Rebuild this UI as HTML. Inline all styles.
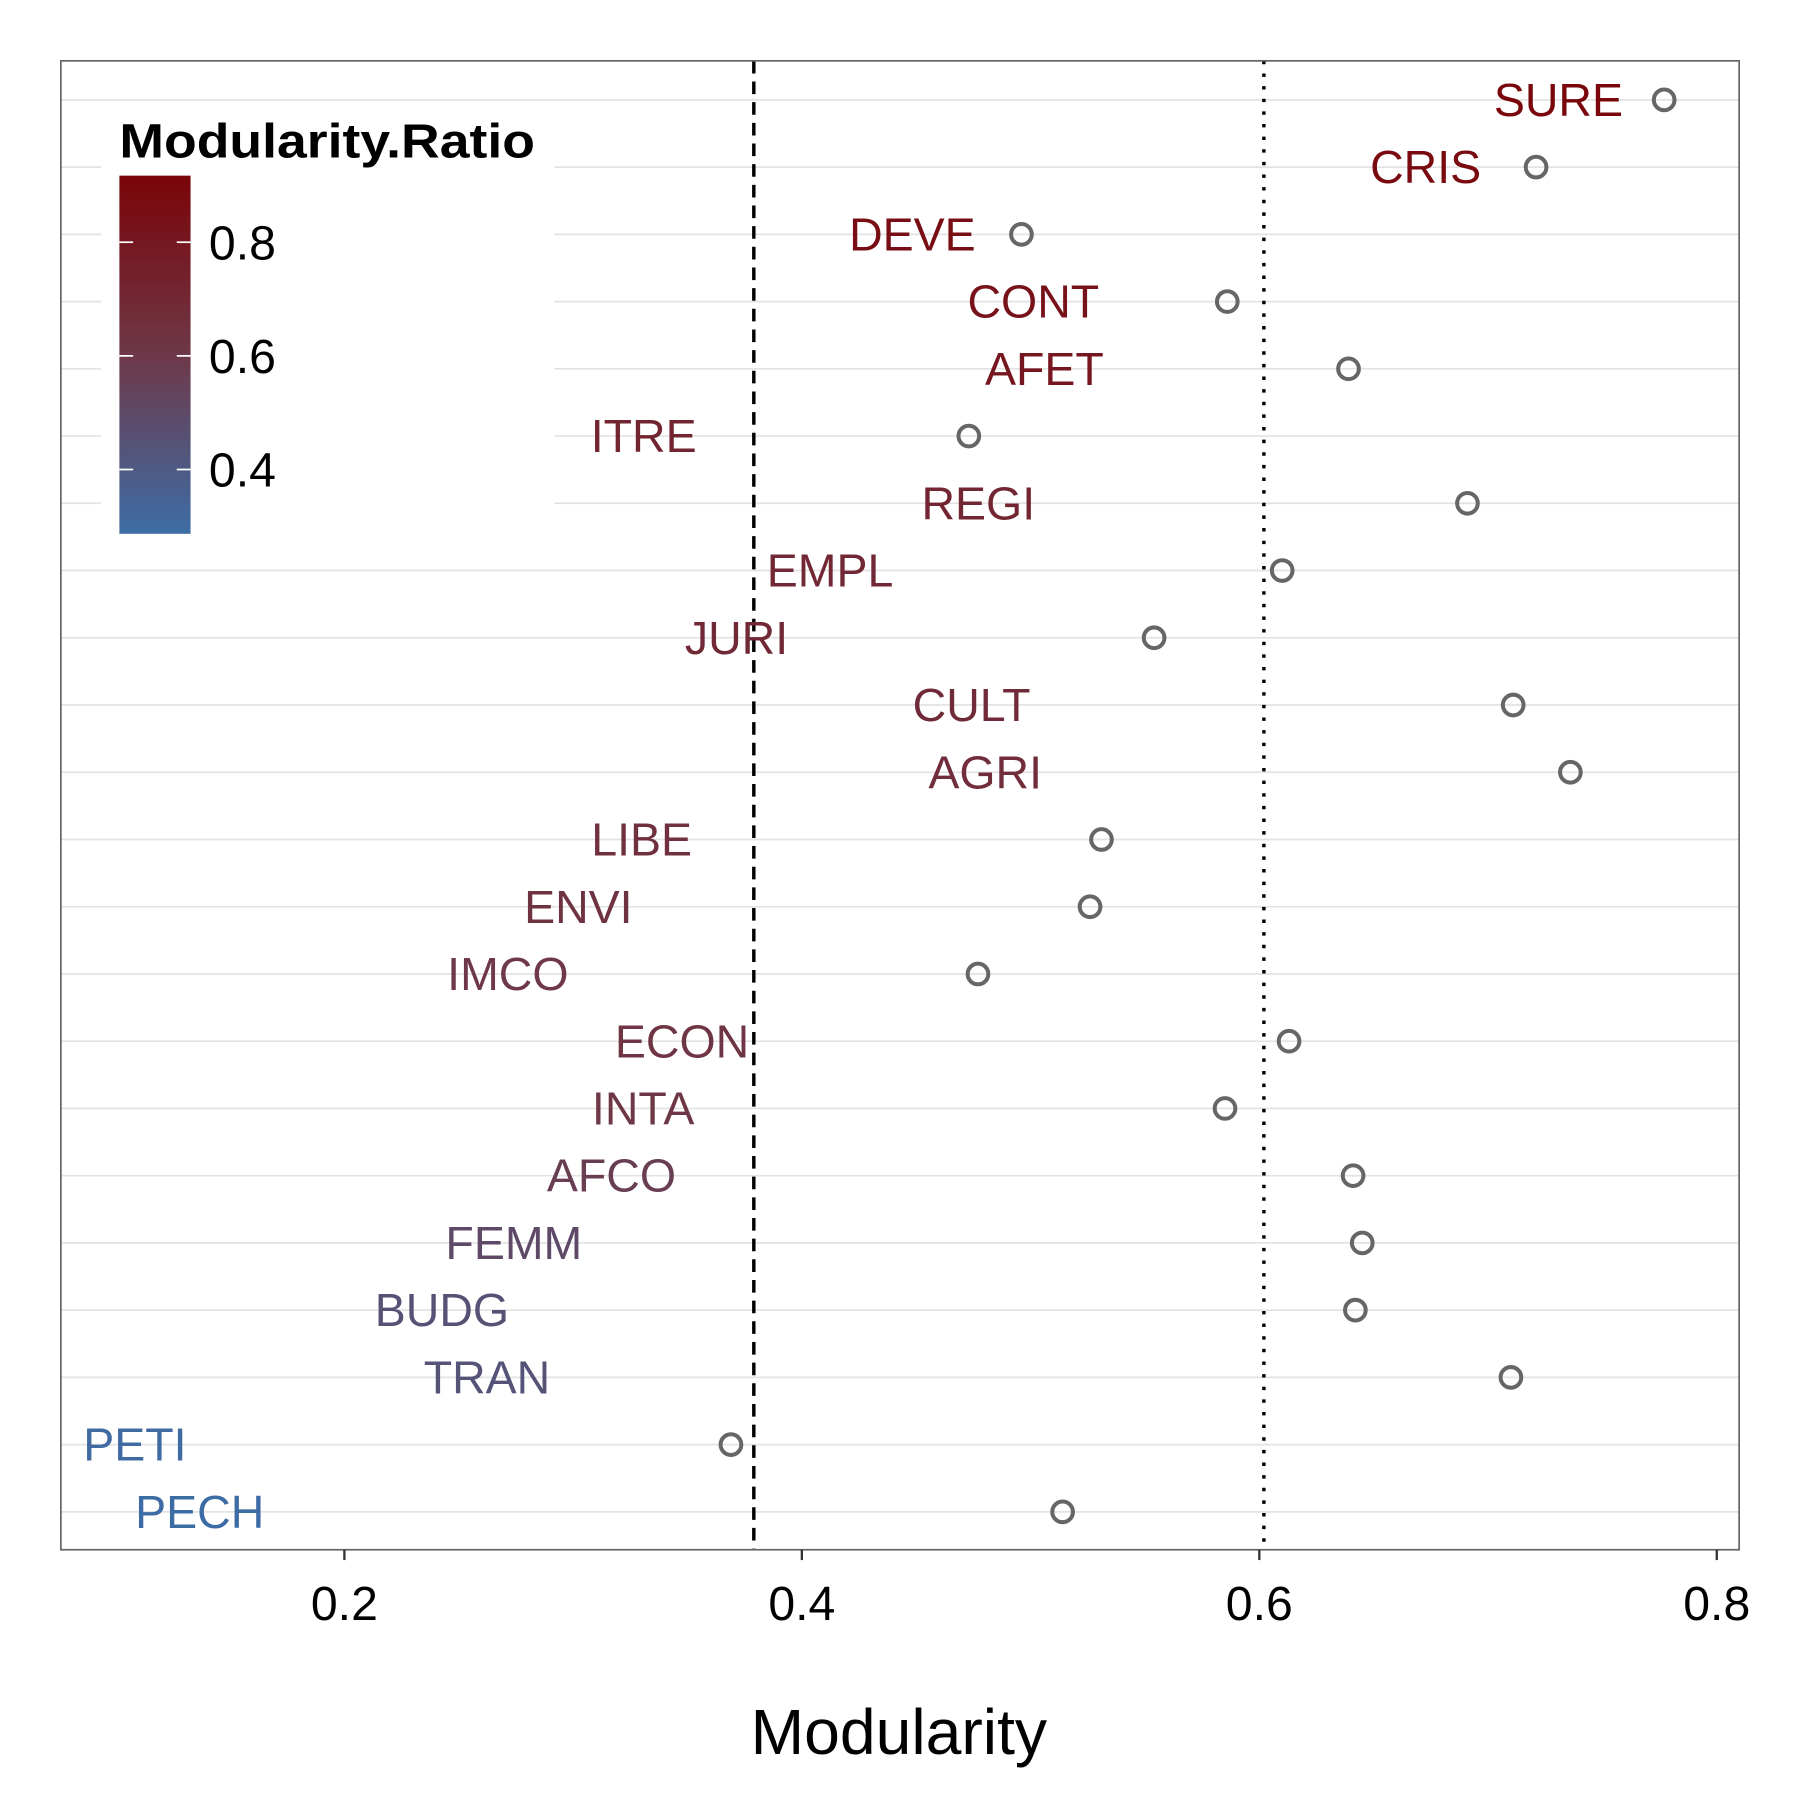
<!DOCTYPE html>
<html><head><meta charset="utf-8"><style>html,body{margin:0;padding:0;background:#fff}svg{display:block}</style></head>
<body>
<svg id="chart" width="1800" height="1800" viewBox="0 0 1568 1568" xmlns="http://www.w3.org/2000/svg" font-family="Liberation Sans, Arial, sans-serif"></svg>
<script>
const committees = ["SURE","CRIS","DEVE","CONT","AFET","ITRE","REGI","EMPL","JURI","CULT","AGRI","LIBE","ENVI","IMCO","ECON","INTA","AFCO","FEMM","BUDG","TRAN","PETI","PECH"];
const modularity = [0.777,0.721,0.496,0.586,0.639,0.473,0.691,0.610,0.554,0.711,0.736,0.531,0.526,0.477,0.613,0.585,0.641,0.645,0.642,0.710,0.369,0.514];
const labelEnd = [0.759,0.697,0.476,0.530,0.532,0.354,0.502,0.440,0.394,0.500,0.505,0.352,0.326,0.298,0.377,0.353,0.345,0.304,0.272,0.290,0.131,0.165];
const modRatio = [0.90,0.88,0.86,0.83,0.81,0.72,0.71,0.70,0.69,0.68,0.67,0.65,0.64,0.60,0.62,0.61,0.57,0.50,0.45,0.44,0.30,0.29];
const xTicks = [0.2,0.4,0.6,0.8];
const legendTicks = [0.8,0.6,0.4];
const dashedValue = 0.379;
const dottedValue = 0.602;

const NS="http://www.w3.org/2000/svg";
const svg=document.getElementById('chart');
function mk(tag,attrs,parent){const e=document.createElementNS(NS,tag);for(const k in attrs)e.setAttribute(k,attrs[k]);(parent||svg).appendChild(e);return e;}
const X=v=>300+(v-0.2)*1992.5;
const Y=i=>87+i*(1317-87)/(committees.length-1);
function lerp(a,b,t){return a.map((c,i)=>Math.round(c+(b[i]-c)*t));}
const cLow=[61,109,166],cMid=[110,56,72],cHigh=[122,4,8];
function col(r){let t=(r-0.287)/(0.917-0.287);t=Math.max(0,Math.min(1,t));const c=t<0.5?lerp(cLow,cMid,t*2):lerp(cMid,cHigh,(t-0.5)*2);return `rgb(${c[0]},${c[1]},${c[2]})`;}

let e=mk('rect',{x:53,y:53,width:1462,height:1297,fill:'#fff'});

committees.forEach((c,i)=>{const g=mk('line',{x1:53,x2:1515,y1:Y(i),y2:Y(i),stroke:'#e3e3e3','stroke-width':1.5});
});
const lg=mk('g',{});
mk('rect',{x:88,y:95,width:395,height:385,fill:'#fff'},lg);
const defs=mk('defs',{});
const grad=mk('linearGradient',{id:'gr',x1:0,y1:1,x2:0,y2:0},defs);
for(let k=0;k<=10;k++){mk('stop',{offset:k/10,'stop-color':col(0.287+k/10*(0.917-0.287))},grad);}
e=mk('text',{x:104,y:137,'font-size':42,'font-weight':'bold',fill:'#000',textLength:362,lengthAdjust:'spacingAndGlyphs'},lg);e.textContent='Modularity.Ratio';

e=mk('rect',{x:104,y:153,width:62,height:312,fill:'url(#gr)'},lg);

const LY=v=>211+(0.8-v)*495;
legendTicks.forEach(v=>{mk('line',{x1:104,x2:116,y1:LY(v),y2:LY(v),stroke:'#fff','stroke-width':1.5},lg);mk('line',{x1:154,x2:166,y1:LY(v),y2:LY(v),stroke:'#fff','stroke-width':1.5},lg);
const t=mk('text',{x:182,y:LY(v)+15,'font-size':42,fill:'#000'},lg);t.textContent=v.toFixed(1);
});
e=mk('line',{x1:X(dashedValue),x2:X(dashedValue),y1:53,y2:1350,stroke:'#000','stroke-width':3,'stroke-dasharray':'11,7'});

e=mk('line',{x1:X(dottedValue),x2:X(dottedValue),y1:53,y2:1350,stroke:'#000','stroke-width':3,'stroke-dasharray':'3,8'});

committees.forEach((c,i)=>{
const t=mk('text',{x:X(labelEnd[i]),y:Y(i)+14,'font-size':40.5,'text-anchor':'end',fill:col(modRatio[i])});t.textContent=c;

const p=mk('circle',{cx:X(modularity[i]),cy:Y(i),r:9,fill:'none',stroke:'#666','stroke-width':3.5});
});
e=mk('rect',{x:53,y:53,width:1462,height:1297,fill:'none',stroke:'#666','stroke-width':1.5});

xTicks.forEach(v=>{mk('line',{x1:X(v),x2:X(v),y1:1350,y2:1359,stroke:'#333','stroke-width':2});
const t=mk('text',{x:X(v),y:1411,'font-size':42,'text-anchor':'middle',fill:'#000'});t.textContent=v.toFixed(1);
});
e=mk('text',{x:783,y:1528,'font-size':56,'text-anchor':'middle',fill:'#000'});e.textContent='Modularity';

</script>
</body></html>
